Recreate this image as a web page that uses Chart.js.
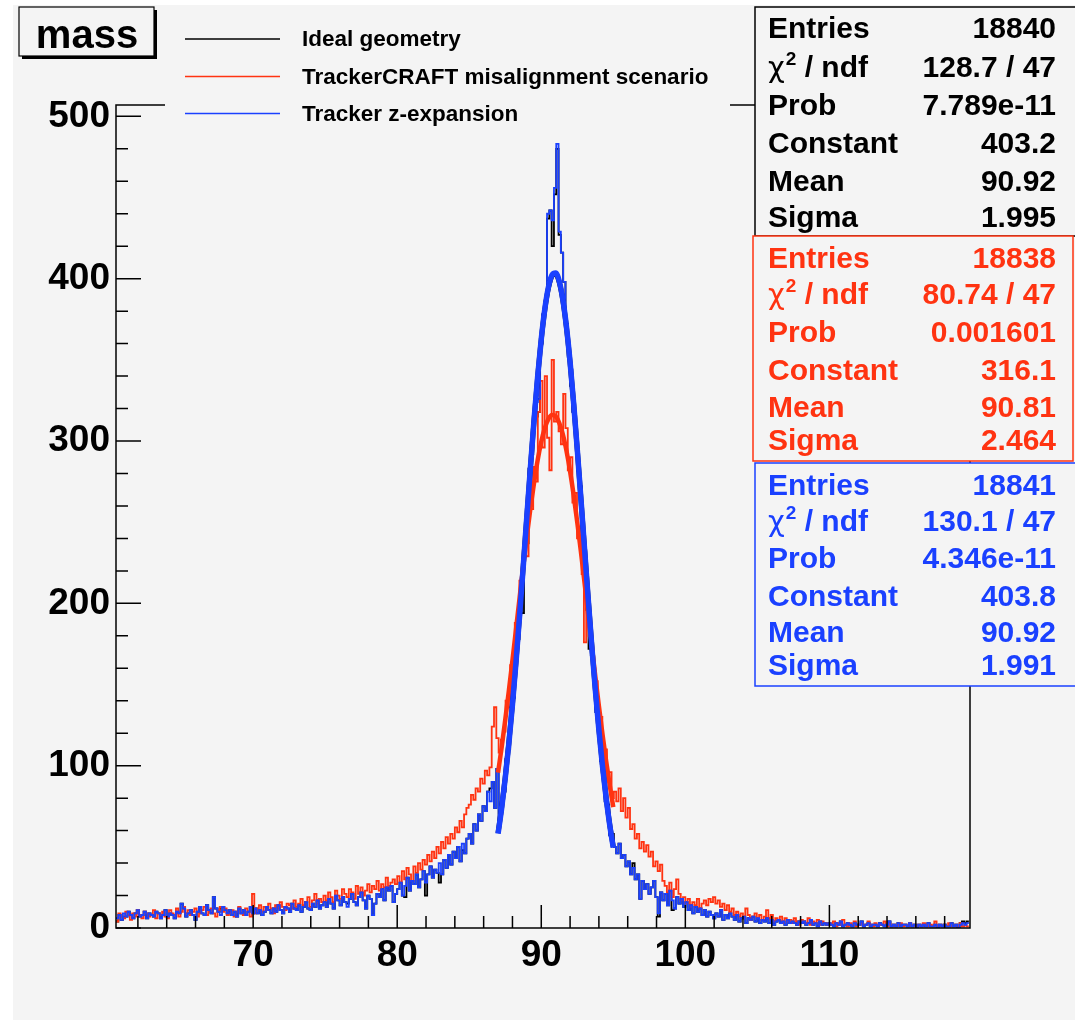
<!DOCTYPE html>
<html><head><meta charset="utf-8">
<script src="https://cdn.jsdelivr.net/npm/chart.js@4.4.1/dist/chart.umd.min.js"></script>
<style>html,body{margin:0;padding:0;background:#fff;}canvas{display:block;}</style>
</head><body>
<canvas id="c" width="1075" height="1027"></canvas>
<script>
// ---------------- DATA ----------------
const X_MIN = 60.48, X_MAX = 119.76, BIN_WIDTH = 0.16;   // histogram binning (370 bins)
const Y_MAX = 507;
const X_TICKS = [70, 80, 90, 100, 110];
const Y_TICKS = [0, 100, 200, 300, 400, 500];

const seriesNames = ['Ideal geometry', 'TrackerCRAFT misalignment scenario', 'Tracker z-expansion'];

// Ideal geometry (black)
const idealHist = [
4,8,5,7,7,10,8,6,9,11, 7,8,10,6,9,8,7,10,9,6, 8,11,7,9,8,6,10,9,15,12,
7,9,11,8,5,10,13,9,8,14, 11,9,19,12,10,12,13,11,9,11, 8,10,7,12,9,11,8,10,13,9,
12,9,11,8,10,13,11,9,12,10, 14,11,9,13,12,10,15,12,11,14, 10,13,16,12,11,15,13,17,12,14,
16,13,18,15,12,20,17,14,19,16, 15,18,21,16,14,19,22,17,12,20, 18,8,15,21,19,24,17,25,23,26, 16,21,
24,28,20,19,31,23,29,27,33,25, 30,35,20,33,38,31,36,34,28,33, 42,37,45,39,47,43,50,41,48,46,55,
58,52,64,60,70,66,75,72,84,86,90,74,98,
66,79,84,104,110,133,142,168,178,205, 194,244,237,283,292,318,315,318,360,378,
386,437,442,420,452,480,427,416,398,372, 352,334,318,310,282,272,244,222,196,172,
168,158,133,126,103,98,78,76,57,58,
50,46,52,43,45,38,41,33,40,30, 33,18,29,24,27,21,25,29,19,7, 22,17,21,14,23,11,12,19,15,18,13,
16,11,14,9,13,10,12,8,11,7, 10,8,6,9,7,11,5,8,6,9, 7,5,8,4,6,7,3,6,5,7,
4,6,3,5,4,6,3,5,2,4, 5,3,4,2,5,3,4,3,2,4, 3,4,2,3,5,2,3,1,4,2,3,2,
3,2,1,3,2,4,1,2,3,2, 1,3,2,2,4,1,2,3,1,2, 2,1,3,2,1,2,4,1,2,1,
3,1,2,2,1,3,1,2,0,2, 1,2,1,3,1,1,2,0,2,1, 2,1,1,3,1,2,0,3,4,3,4
];

// TrackerCRAFT misalignment scenario (red)
const craftHist = [
4,9,7,6,10,8,5,9,7,11, 8,6,10,9,7,8,11,6,9,8, 10,7,6,11,9,8,12,7,10,13,
9,11,8,10,12,7,9,11,13,8, 10,12,9,7,11,13,10,12,8,9, 11,7,10,13,9,8,12,10,7,21,
9,12,14,10,13,11,15,12,9,14, 12,16,13,11,15,14,12,17,13,15, 18,14,16,19,13,17,21,15,18,16,
20,17,22,19,16,23,20,18,24,21, 19,24,22,18,26,21,25,20,23,27, 22,26,24,29,23,27,25,31,26,28, 30,27,
32,28,35,30,37,33,29,38,34,40, 36,42,39,45,41,47,43,50,46,53, 49,56,52,58,55,62,59,66,62,70,74,
76,82,79,86,84,92,89,97,94,99,124,136,117,
108,116,121,140,136,162,168,188,192,214, 218,238,229,262,258,284,275,318,337,296,
340,302,282,350,312,318,306,298,329,308, 282,290,262,268,240,246,218,176,201,180,
176,155,152,132,130,109,110,92,96,80,
84,78,86,72,80,68,74,61,64,55, 58,49,53,47,51,44,47,38,41,35, 39,29,26,22,28,19,24,30,21,17,19,
15,18,13,16,14,18,12,15,17,14, 18,16,19,15,17,13,15,11,14,10, 12,8,10,7,9,6,12,8,5,7,
9,6,8,5,7,11,6,8,4,6, 5,7,3,6,4,5,3,6,4,2, 5,4,3,6,2,4,3,5,2,4,3,2,
3,2,4,1,3,2,5,2,1,3, 2,4,1,2,3,1,2,4,2,1, 3,1,2,2,4,1,3,1,2,1,
2,3,1,2,1,3,1,2,1,2, 1,3,2,1,2,1,4,1,2,1, 2,1,3,1,1,2,1,3,1,2,1
];

// Tracker z-expansion (blue)
const zexpHist = [
6,8,5,9,7,10,8,6,9,11, 7,8,10,6,9,8,7,10,9,6, 8,11,7,9,8,6,10,9,15,12,
7,9,11,8,5,10,13,9,8,14, 11,9,19,12,10,8,13,11,9,11, 8,10,7,12,9,11,8,10,13,9,
12,9,11,8,10,13,11,9,12,10, 14,11,9,13,12,10,15,12,11,14, 10,13,16,12,11,15,13,17,12,14,
16,13,18,15,12,20,17,14,19,16, 13,18,21,16,14,19,22,17,12,20, 18,8,15,21,19,24,17,25,23,26, 16,21,
24,28,20,26,31,23,29,27,33,25, 30,35,28,33,38,31,36,34,40,33, 42,37,45,39,47,43,50,41,52,46,55,
58,52,64,60,70,66,75,72,84,78,90,74,98,
66,79,84,104,110,133,142,168,178,205, 214,244,252,283,292,318,324,326,360,378,
386,440,442,436,456,483,429,416,398,372, 352,344,318,310,282,272,244,232,204,194,
168,158,133,126,103,98,78,74,57,54,
50,46,52,43,45,38,41,33,37,30, 33,18,29,24,27,21,25,29,19,9, 22,17,21,14,23,17,12,19,15,18,13,
16,11,14,9,13,10,12,8,11,7, 10,8,6,9,7,11,5,8,6,9, 7,5,8,4,6,7,3,6,5,7,
4,6,3,5,4,6,3,5,2,4, 5,3,4,2,5,3,4,3,2,4, 3,4,2,3,5,2,3,1,4,2,3,2,
3,2,1,3,2,4,1,2,3,2, 1,3,2,2,4,1,2,3,1,2, 2,1,3,2,1,2,4,1,2,1,
3,1,2,2,1,3,1,2,0,2, 1,2,1,3,1,1,2,0,2,1, 2,1,1,3,1,2,0,2,3,2,3
];

// Gaussian fit curves
const fitX = [87,87.25,87.5,87.75,88,88.25,88.5,88.75,89,89.25,89.5,89.75,90,90.25,90.5,90.75,
              91,91.25,91.5,91.75,92,92.25,92.5,92.75,93,93.25,93.5,93.75,94,94.25,94.5,94.75,95];
const idealFit = [58.5,74.2,92.8,114.1,138.1,164.6,193.2,223.2,253.7,284.0,313.0,339.5,362.6,381.1,394.4,401.7,
                  402.9,397.7,386.5,369.8,348.2,322.9,294.7,264.7,234.1,203.9,174.8,147.4,122.5,100.1,80.6,63.9,49.8];
const craftFit = [95.7,111.3,128.2,146.2,165.0,184.3,203.7,222.9,241.3,258.7,274.4,288.2,299.5,308.0,313.6,316.0,
                  315.2,311.1,304.0,293.9,281.3,266.5,249.8,231.9,213.0,193.6,174.2,155.1,136.7,119.3,103.0,88.0,74.5];
const zexpFit = [58.1,73.9,92.4,113.7,137.7,164.3,192.9,222.9,253.7,284.0,313.2,339.8,362.9,381.6,394.9,402.3,
                 403.5,398.3,387.0,370.2,348.6,323.0,294.7,264.7,234.0,203.6,174.4,147.0,122.0,99.7,80.2,63.5,49.5];

// Statistics boxes
const statLabels = ['Entries', 'χ2 / ndf', 'Prob', 'Constant', 'Mean', 'Sigma'];
const idealStats = ['18840', '128.7 / 47', '7.789e-11', '403.2', '90.92', '1.995'];
const craftStats = ['18838', '80.74 / 47', '0.001601', '316.1', '90.81', '2.464'];
const zexpStats  = ['18841', '130.1 / 47', '4.346e-11', '403.8', '90.92', '1.991'];

// ---------------- STYLE ----------------
const BG = '#f4f4f4';
const C_BLACK = '#000000', C_RED = '#ff3311', C_BLUE = '#1a40ff';
const FONT = '"Liberation Sans", Arial, Helvetica, sans-serif';

const nBins = zexpHist.length;
const binEdges = [];
for (let i = 0; i <= nBins; i++) binEdges.push(+(X_MIN + i * BIN_WIDTH).toFixed(2));

function histPoints(values) {
  const pts = values.map((v, i) => ({x: binEdges[i], y: v}));
  pts.push({x: binEdges[values.length], y: values[values.length - 1]});
  return pts;
}
function fitPoints(values) { return values.map((v, i) => ({x: fitX[i], y: v})); }

function histDS(label, values, color, order) {
  return {label, data: histPoints(values), borderColor: color, borderWidth: 1.8,
          pointRadius: 0, stepped: 'before', fill: false, order};
}
function fitDS(label, values, color, width, order) {
  return {label, data: fitPoints(values), borderColor: color, borderWidth: width,
          pointRadius: 0, cubicInterpolationMode: 'monotone', fill: false, order};
}

function line(ctx, x1, y1, x2, y2) { ctx.moveTo(x1, y1); ctx.lineTo(x2, y2); }

function drawStatBox(ctx, box, color, values, baselines) {
  ctx.fillStyle = BG;
  ctx.fillRect(box.x, box.y, box.w, box.h);
  ctx.strokeStyle = color; ctx.lineWidth = 1.5;
  ctx.strokeRect(box.x, box.y, box.w, box.h);
  ctx.fillStyle = color;
  ctx.textBaseline = 'alphabetic';
  for (let i = 0; i < statLabels.length; i++) {
    const by = baselines[i];
    ctx.textAlign = 'left';
    if (i === 1) {
      ctx.font = '29px "DejaVu Sans", ' + FONT;
      ctx.fillText('χ', 768, by);
      let w = ctx.measureText('χ').width;
      ctx.font = 'bold 19px ' + FONT;
      ctx.fillText('2', 768 + w + 1, by - 12);
      w += ctx.measureText('2').width + 1;
      ctx.font = 'bold 30px ' + FONT;
      ctx.fillText(' / ndf', 768 + w, by);
    } else {
      ctx.font = 'bold 30px ' + FONT;
      ctx.fillText(statLabels[i], 768, by);
    }
    ctx.font = 'bold 30px ' + FONT;
    ctx.textAlign = 'right';
    ctx.fillText(values[i], 1056, by);
  }
}

const decor = {
  id: 'decor',
  beforeDraw(chart) {
    const ctx = chart.ctx;
    ctx.save();
    ctx.fillStyle = '#ffffff'; ctx.fillRect(0, 0, chart.width, chart.height);
    ctx.fillStyle = BG; ctx.fillRect(13, 5, chart.width - 13, 1015);
    ctx.restore();
  },
  afterDatasetsDraw(chart) {
    const {ctx, chartArea: a, scales: {x, y}} = chart;
    ctx.save();
    ctx.strokeStyle = '#000'; ctx.lineWidth = 1.5;
    ctx.strokeRect(a.left, a.top, a.right - a.left, a.bottom - a.top);
    ctx.beginPath();
    for (let v = 0; v <= 500; v += 20) {
      const py = y.getPixelForValue(v);
      line(ctx, a.left, py, a.left + (v % 100 === 0 ? 25 : 12), py);
    }
    for (let v = 62; v <= 118; v += 2) {
      const px = x.getPixelForValue(v);
      line(ctx, px, a.bottom, px, a.bottom - (v % 10 === 0 ? 23 : 12));
    }
    ctx.stroke();
    ctx.restore();
  },
  afterDraw(chart) {
    const ctx = chart.ctx;
    ctx.save();
    // legend (opaque, no border)
    ctx.fillStyle = BG; ctx.fillRect(165, 12, 565, 116);
    const legY = [39, 76.5, 113.5], legC = [C_BLACK, C_RED, C_BLUE];
    ctx.lineWidth = 1.6;
    for (let i = 0; i < 3; i++) {
      ctx.strokeStyle = legC[i];
      ctx.beginPath(); line(ctx, 185, legY[i], 280, legY[i]); ctx.stroke();
      ctx.fillStyle = '#000'; ctx.font = 'bold 22.5px ' + FONT;
      ctx.textAlign = 'left'; ctx.textBaseline = 'alphabetic';
      ctx.fillText(seriesNames[i], 302, legY[i] + 7);
    }
    // title box with shadow
    ctx.fillStyle = '#000'; ctx.fillRect(22, 10, 135, 49);
    ctx.fillStyle = BG; ctx.fillRect(19, 7, 135, 49);
    ctx.strokeStyle = '#000'; ctx.lineWidth = 1.2; ctx.strokeRect(19, 7, 135, 49);
    ctx.fillStyle = '#000'; ctx.font = 'bold 40px ' + FONT;
    ctx.textAlign = 'center'; ctx.fillText('mass', 87, 48);
    // stats boxes
    drawStatBox(ctx, {x: 755, y: 7, w: 330, h: 229}, C_BLACK, idealStats, [38, 77, 115, 153, 191, 227]);
    drawStatBox(ctx, {x: 753, y: 236, w: 320, h: 225}, C_RED, craftStats, [268, 304, 342, 380, 417, 450]);
    drawStatBox(ctx, {x: 755, y: 463, w: 330, h: 223}, C_BLUE, zexpStats, [495, 531, 568, 606, 642, 675]);
    ctx.restore();
  }
};

new Chart(document.getElementById('c'), {
  type: 'line',
  data: {
    datasets: [
      fitDS(seriesNames[2] + ' fit', zexpFit, C_BLUE, 5.5, 0),
      fitDS(seriesNames[1] + ' fit', craftFit, C_RED, 4.5, 1),
      fitDS(seriesNames[0] + ' fit', idealFit, C_BLACK, 5, 2),
      histDS(seriesNames[2], zexpHist, C_BLUE, 3),
      histDS(seriesNames[1], craftHist, C_RED, 4),
      histDS(seriesNames[0], idealHist, C_BLACK, 5)
    ]
  },
  options: {
    responsive: false, animation: false, devicePixelRatio: 1,
    layout: {padding: {left: 0, right: 105, top: 105, bottom: 0}},
    plugins: {legend: {display: false}, tooltip: {enabled: false}, title: {display: false}},
    scales: {
      x: {
        type: 'linear', min: X_MIN, max: X_MAX,
        grid: {display: false, drawTicks: false}, border: {display: false},
        afterFit: s => { s.height = 99; },
        afterBuildTicks: s => { s.ticks = X_TICKS.map(v => ({value: v})); },
        ticks: {color: '#000', font: {family: FONT, size: 37, weight: 'bold'}, padding: 6,
                maxRotation: 0, autoSkip: false}
      },
      y: {
        type: 'linear', min: 0, max: Y_MAX,
        grid: {display: false, drawTicks: false}, border: {display: false},
        afterFit: s => { s.width = 116; },
        afterBuildTicks: s => { s.ticks = Y_TICKS.map(v => ({value: v})); },
        ticks: {color: '#000', font: {family: FONT, size: 37, weight: 'bold'}, padding: 6}
      }
    }
  },
  plugins: [decor]
});
</script>
</body></html>
